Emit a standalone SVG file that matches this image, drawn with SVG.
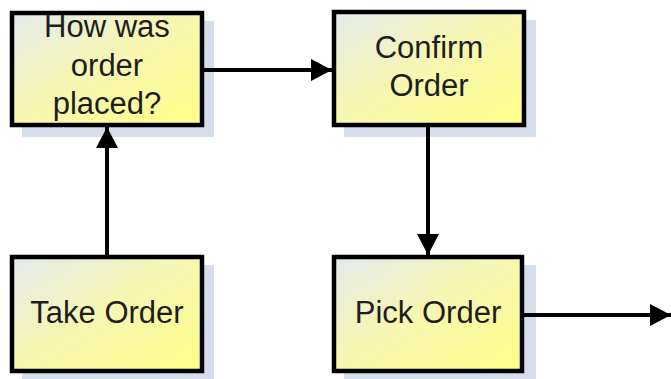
<svg xmlns="http://www.w3.org/2000/svg" width="671" height="379" viewBox="0 0 671 379">
  <defs>
    <linearGradient id="boxFill" x1="0" y1="0" x2="1" y2="1">
      <stop offset="0" stop-color="#e4eaee"/>
      <stop offset="0.45" stop-color="#f6f6b4"/>
      <stop offset="1" stop-color="#ffff88"/>
    </linearGradient>
    <marker id="arrow" viewBox="0 0 21 22" refX="21" refY="11" markerWidth="21" markerHeight="22" markerUnits="userSpaceOnUse" orient="auto">
      <path d="M0,0 L21,11 L0,22 Z" fill="#000"/>
    </marker>
  </defs>
  <style>
    .shadow { fill: #d6deec; }
    .box { fill: url(#boxFill); stroke: #000; stroke-width: 4.5; }
    .label { font-family: "Liberation Sans", Arial, sans-serif; font-size: 31px; fill: #1e1e1e; text-anchor: middle; }
    .link { stroke: #000; stroke-width: 4; fill: none; marker-end: url(#arrow); }
  </style>
  <rect width="671" height="379" fill="#fff"/>

  <g id="node-how-placed">
    <rect class="shadow" x="22" y="21" width="192" height="116"/>
    <rect class="box" x="12" y="13" width="190" height="112"/>
    <text class="label" x="107" y="37">How was</text>
    <text class="label" x="107" y="76">order</text>
    <text class="label" x="107" y="114">placed?</text>
  </g>

  <g id="node-confirm-order">
    <rect class="shadow" x="344" y="20" width="192" height="117"/>
    <rect class="box" x="334" y="12" width="190" height="113"/>
    <text class="label" x="429" y="58">Confirm</text>
    <text class="label" x="429" y="96">Order</text>
  </g>

  <g id="node-take-order">
    <rect class="shadow" x="22" y="265" width="192" height="116"/>
    <rect class="box" x="12" y="257" width="190" height="114"/>
    <text class="label" x="107" y="323">Take Order</text>
  </g>

  <g id="node-pick-order">
    <rect class="shadow" x="344" y="265" width="192" height="116"/>
    <rect class="box" x="334" y="257" width="188" height="114"/>
    <text class="label" x="428" y="323">Pick Order</text>
  </g>

  <g id="connectors">
    <line class="link" x1="107" y1="255" x2="107" y2="127"/>
    <line class="link" x1="204" y1="70" x2="332" y2="70"/>
    <line class="link" x1="428" y1="127" x2="428" y2="255"/>
    <line class="link" x1="524" y1="315" x2="671" y2="315"/>
  </g>
</svg>
